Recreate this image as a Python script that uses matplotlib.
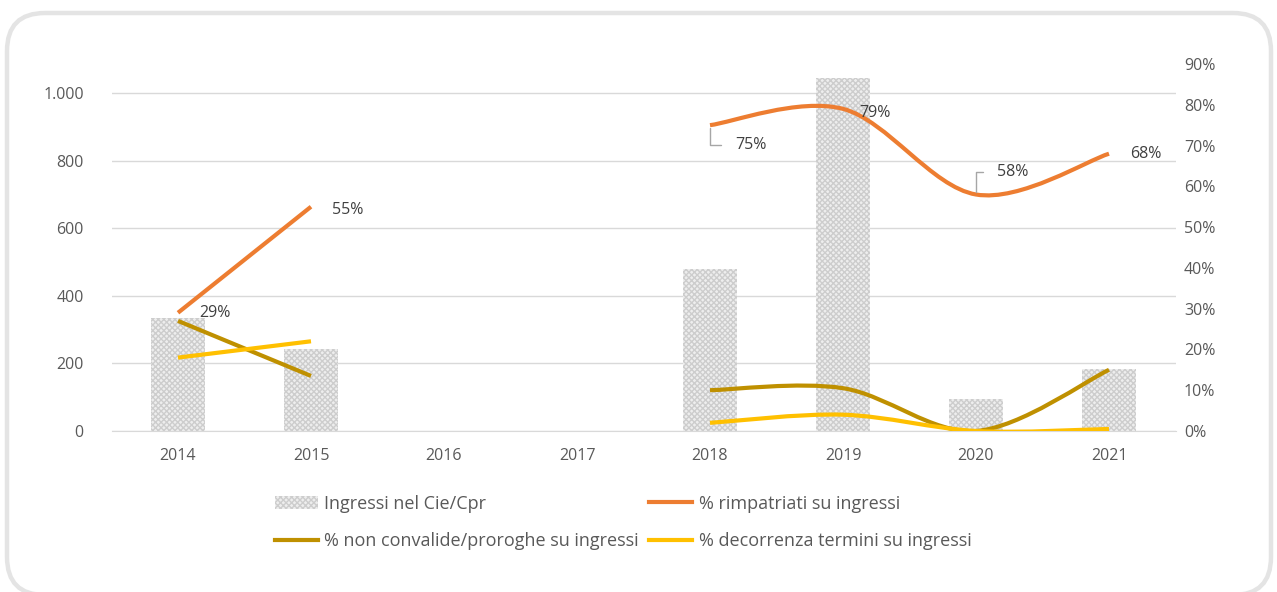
import matplotlib.pyplot as plt
import numpy as np
from matplotlib.path import Path
from matplotlib.patches import PathPatch, FancyBboxPatch, Patch
from matplotlib.lines import Line2D
from matplotlib.ticker import FuncFormatter

plt.rcParams['font.family'] = ['Open Sans', 'DejaVu Sans']
plt.rcParams['hatch.linewidth'] = 1.0

# data
years = ['2014', '2015', '2016', '2017', '2018', '2019', '2020', '2021']
ingressi = [334, 243, None, None, 479, 1044, 95, 183]
rimpatriati = [29, 55, None, None, 75, 79, 58, 68]
non_convalide = [27, 13.5, None, None, 10, 10.5, 0, 15]
decorrenza = [18, 22, None, None, 2, 4, 0, 0.5]

ORANGE = '#ed7d31'
GOLD = '#bf9000'
YELLOW = '#ffc000'
TXT = '#595959'
BAR_FACE = '#eeeeee'
BAR_HATCH = '#cdcdcd'


def smooth_runs(xs, ys):
    # split at gaps, then build Excel-like smoothed bezier paths
    runs, cur = [], []
    for x, y in zip(xs, ys):
        if y is None:
            if cur:
                runs.append(cur)
            cur = []
        else:
            cur.append((x, y))
    if cur:
        runs.append(cur)
    paths = []
    for r in runs:
        p = np.array(r, dtype=float)
        verts, codes = [p[0]], [Path.MOVETO]
        n = len(p)
        for i in range(n - 1):
            p0 = p[i - 1] if i > 0 else p[i]
            p3 = p[i + 2] if i + 2 < n else p[i + 1]
            c1 = p[i] + (p[i + 1] - p0) / 6
            c2 = p[i + 1] - (p3 - p[i]) / 6
            verts += [c1, c2, p[i + 1]]
            codes += [Path.CURVE4] * 3
        paths.append(Path(verts, codes))
    return paths


fig = plt.figure(figsize=(12.77, 5.92), dpi=100, facecolor='white')

# rounded frame
frame = FancyBboxPatch((0.07, -0.03), 12.64, 5.82,
                       boxstyle='round,pad=0,rounding_size=0.38',
                       transform=fig.dpi_scale_trans, facecolor='none',
                       edgecolor='#e4e4e4', linewidth=3.2, zorder=-5)
fig.patches.append(frame)

ax = fig.add_axes([111.5 / 1277, 1 - 431 / 592, 1064 / 1277, 367 / 592])
ax.set_facecolor('none')
ax2 = ax.twinx()

x = np.arange(len(years))
bar_h = [v if v is not None else 0 for v in ingressi]
ax.bar(x, bar_h, width=0.4, color=BAR_FACE, edgecolor=BAR_HATCH,
       hatch='xxxxxx', linewidth=0, zorder=2)

ax.set_xlim(-0.5, len(years) - 0.5)
ax.set_ylim(0, 1086)
ax.set_yticks(range(0, 1001, 200))
ax.yaxis.set_major_formatter(FuncFormatter(lambda v, p: f'{int(v):,}'.replace(',', '.')))
ax.set_xticks(x)
ax.set_xticklabels(years)
ax.grid(axis='y', color='#d9d9d9', linewidth=1, zorder=0)
ax.set_axisbelow(True)

ax2.set_ylim(0, 0.9)
ax2.set_yticks(np.arange(0, 0.91, 0.1))
ax2.yaxis.set_major_formatter(FuncFormatter(lambda v, p: f'{round(v * 100)}%'))

for a in (ax, ax2):
    for s in a.spines.values():
        s.set_visible(False)
    a.tick_params(length=0, colors=TXT, labelsize=11.5)
ax.spines['bottom'].set_visible(True)
ax.spines['bottom'].set_color('#d9d9d9')
ax.tick_params(axis='x', pad=12)
ax.tick_params(axis='y', pad=20)
ax2.tick_params(axis='y', pad=6)

for vals, col in [(rimpatriati, ORANGE), (non_convalide, GOLD), (decorrenza, YELLOW)]:
    yv = [v / 100 if v is not None else None for v in vals]
    for pth in smooth_runs(x, yv):
        ax2.add_patch(PathPatch(pth, facecolor='none', edgecolor=col,
                                linewidth=3, capstyle='butt', zorder=3))

# data labels for % rimpatriati
lab_off = {0: (15, 0), 1: (15, -2), 4: (18, -14), 5: (12, -3), 6: (15, 16), 7: (15, 0)}
for i, (dx, dy) in lab_off.items():
    v = rimpatriati[i]
    kw = {}
    if i in (4, 6):
        kw['arrowprops'] = dict(arrowstyle='-', color='#a6a6a6', lw=1,
                                connectionstyle='angle,angleA=0,angleB=90,rad=0',
                                relpos=(0, 0.5), shrinkA=8, shrinkB=2)
    ax2.annotate(f'{v}%', (x[i], v / 100), xytext=(dx, dy),
                 textcoords='offset points', ha='left', va='center',
                 fontsize=11.5, color='#404040', zorder=5, **kw)

handles = [
    Patch(facecolor=BAR_FACE, edgecolor=BAR_HATCH, hatch='xxxxxx', linewidth=0),
    Line2D([], [], color=GOLD, lw=3),
    Line2D([], [], color=ORANGE, lw=3),
    Line2D([], [], color=YELLOW, lw=3),
]
labels = ['Ingressi nel Cie/Cpr', '% non convalide/proroghe su ingressi',
          '% rimpatriati su ingressi', '% decorrenza termini su ingressi']
fig.legend(handles, labels, ncol=2, loc='center', bbox_to_anchor=(623 / 1277, 1 - 522.5 / 592),
           frameon=False, fontsize=13, labelcolor=TXT, handlelength=2.4,
           handletextpad=0.35, columnspacing=0.55, labelspacing=1.1)

fig.savefig('out.png', dpi=100)
